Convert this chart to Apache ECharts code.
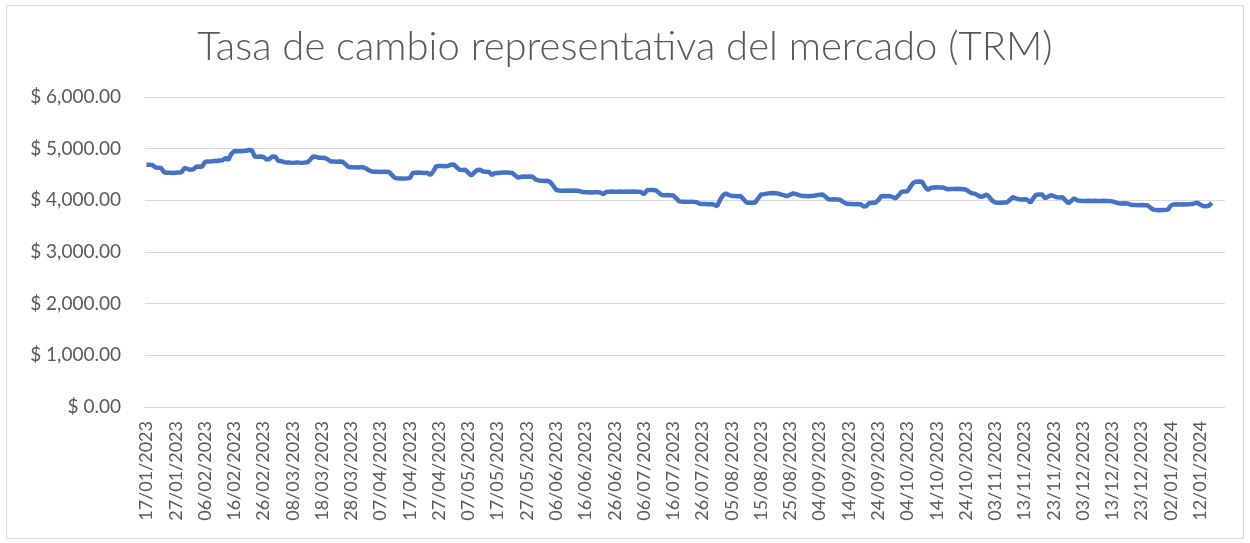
<!DOCTYPE html>
<html>
<head>
<meta charset="utf-8">
<script src="https://cdn.jsdelivr.net/npm/echarts@6/dist/echarts.min.js"></script>
<style>
  html, body { margin: 0; padding: 0; background: #fff; }
  #chart { width: 1250px; height: 543px; }
</style>
</head>
<body>
<div id="chart"></div>
<script>
// TRM diaria (COP por USD), 17/01/2023 - 16/01/2024
const trmEne2023 = [4690, 4690, 4685, 4640, 4630, 4625, 4545, 4535, 4535, 4530, 4535, 4540, 4545, 4625, 4610];
const trmFeb2023 = [4590, 4600, 4650, 4655, 4650, 4745, 4750, 4750, 4765, 4760, 4770, 4775, 4820, 4785,
                    4900, 4955, 4950, 4950, 4955, 4960, 4975, 4970, 4850, 4845, 4850, 4840, 4790, 4800];
const trmMar2023 = [4850, 4845, 4765, 4760, 4740, 4730, 4730, 4725, 4730, 4730, 4725, 4730, 4735, 4790, 4850, 4840,
                    4825, 4825, 4820, 4790, 4750, 4750, 4745, 4750, 4745, 4700, 4645, 4640, 4640, 4635, 4640];
const trmAbr2023 = [4640, 4620, 4580, 4560, 4555, 4555, 4550, 4555, 4555, 4545, 4480, 4430, 4425, 4425, 4420,
                    4425, 4430, 4530, 4535, 4540, 4535, 4530, 4535, 4490, 4560, 4660, 4665, 4665, 4660, 4665];
const trmMay2023 = [4690, 4695, 4640, 4590, 4585, 4590, 4530, 4480, 4540, 4585, 4590, 4560, 4555, 4550, 4490, 4525,
                    4530, 4535, 4540, 4540, 4535, 4530, 4480, 4440, 4455, 4460, 4455, 4460, 4455, 4400, 4385];
const trmJun2023 = [4380, 4375, 4380, 4350, 4280, 4200, 4190, 4185, 4185, 4190, 4185, 4190, 4185, 4180, 4160,
                    4155, 4155, 4150, 4155, 4155, 4150, 4120, 4160, 4165, 4170, 4165, 4165, 4170, 4165, 4170];
const trmJul2023 = [4165, 4170, 4165, 4165, 4160, 4120, 4195, 4200, 4200, 4195, 4150, 4105, 4100, 4105, 4100, 4095,
                    4040, 3980, 3975, 3975, 3970, 3975, 3970, 3965, 3935, 3930, 3930, 3925, 3930, 3910, 3890];
const trmAgo2023 = [4010, 4100, 4135, 4100, 4085, 4085, 4080, 4085, 4020, 3960, 3955, 3955, 3960, 4040, 4115, 4120,
                    4130, 4135, 4140, 4135, 4130, 4110, 4095, 4085, 4110, 4135, 4120, 4100, 4085, 4085, 4080];
const trmSep2023 = [4085, 4090, 4100, 4110, 4115, 4070, 4020, 4015, 4020, 4015, 4010, 3970, 3940, 3930, 3930,
                    3925, 3930, 3925, 3880, 3890, 3950, 3955, 3955, 4000, 4080, 4085, 4080, 4085, 4060, 4040];
const trmOct2023 = [4100, 4165, 4170, 4175, 4260, 4340, 4360, 4365, 4360, 4260, 4200, 4240, 4250, 4255, 4250, 4250,
                    4230, 4215, 4220, 4220, 4225, 4220, 4215, 4210, 4170, 4135, 4130, 4100, 4070, 4080, 4115];
const trmNov2023 = [4060, 3990, 3960, 3955, 3955, 3960, 3960, 4010, 4060, 4040, 4020, 4015, 4020, 4010, 3955,
                    4040, 4110, 4115, 4115, 4040, 4070, 4100, 4080, 4060, 4055, 4060, 4000, 3945, 3990, 4040];
const trmDic2023 = [4000, 3990, 3985, 3985, 3990, 3985, 3990, 3985, 3985, 3990, 3985, 3985, 3980, 3960, 3945, 3940,
                    3945, 3940, 3920, 3910, 3910, 3905, 3910, 3905, 3905, 3860, 3820, 3815, 3810, 3815, 3815];
const trmEne2024 = [3820, 3900, 3920, 3925, 3920, 3925, 3920, 3925, 3930, 3940, 3955, 3920, 3890, 3885, 3895, 3950];

const firstDay = new Date(2023, 0, 17);
const lastDay = new Date(2024, 0, 20);
const yTicks = [0, 1000, 2000, 3000, 4000, 5000, 6000];

const trm = [].concat(trmEne2023, trmFeb2023, trmMar2023, trmAbr2023, trmMay2023, trmJun2023,
  trmJul2023, trmAgo2023, trmSep2023, trmOct2023, trmNov2023, trmDic2023, trmEne2024);

// fechas diarias del eje x (dd/mm/aaaa)
const fechas = [];
for (let d = new Date(firstDay); d <= lastDay; d.setDate(d.getDate() + 1)) {
  const dd = String(d.getDate()).padStart(2, '0');
  const mm = String(d.getMonth() + 1).padStart(2, '0');
  fechas.push(dd + '/' + mm + '/' + d.getFullYear());
}

const fmtPeso = v => '$ ' + v.toLocaleString('en-US', { minimumFractionDigits: 2, maximumFractionDigits: 2 });

const myChart = echarts.init(document.getElementById('chart'));
myChart.setOption({
  animation: false,
  title: {
    text: 'Tasa de cambio representativa del mercado (TRM)',
    left: 'center',
    top: 22,
    textStyle: { color: '#595959', fontSize: 40, fontWeight: 300, fontFamily: 'Lato' }
  },
  graphic: [{
    type: 'rect',
    shape: { x: 6.5, y: 5.5, width: 1237, height: 533 },
    style: { fill: 'none', stroke: '#d9d9d9', lineWidth: 1 },
    silent: true
  }],
  grid: { left: 145, right: 25, top: 97, bottom: 136 },
  xAxis: {
    type: 'category',
    data: fechas,
    boundaryGap: true,
    axisLine: { lineStyle: { color: '#d9d9d9', width: 1 } },
    axisTick: { show: false },
    axisLabel: {
      interval: 9,
      rotate: 90,
      margin: 14,
      color: '#595959',
      fontSize: 18,
      fontFamily: 'Lato'
    }
  },
  yAxis: {
    type: 'value',
    min: yTicks[0],
    max: yTicks[yTicks.length - 1],
    interval: 1000,
    axisLine: { show: false },
    axisTick: { show: false },
    splitLine: { lineStyle: { color: '#d9d9d9', width: 1 } },
    axisLabel: {
      formatter: fmtPeso,
      color: '#595959',
      fontSize: 19,
      margin: 24,
      fontFamily: 'Lato'
    }
  },
  series: [{
    name: 'TRM',
    type: 'line',
    data: trm,
    showSymbol: false,
    lineStyle: { color: '#4472C4', width: 4.5 },
    itemStyle: { color: '#4472C4' }
  }]
});
</script>
</body>
</html>
